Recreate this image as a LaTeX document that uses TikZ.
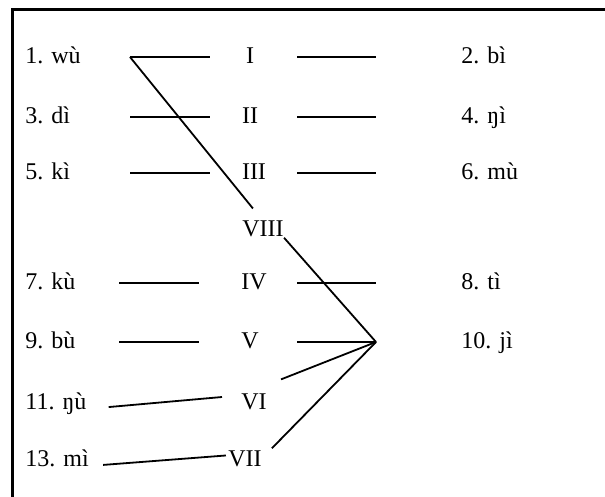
\documentclass[tikz,border=0pt]{standalone}
\usepackage{fontspec}
\setmainfont{Liberation Serif}
\begin{document}
\begin{tikzpicture}[x=0.5pt, y=-0.5pt, font=\fontsize{12}{14}\selectfont,
  word/.style={anchor=base west, inner sep=0pt},
  roman/.style={anchor=base, inner sep=0pt},
  link/.style={line width=0.9pt}]

\useasboundingbox (0,0) rectangle (605,497);

% Frame (only top and left edges show)
\draw[line width=1.5pt] (12,497) -- (12,10) -- (605,10);

% Left words
\foreach \n/\y/\t in {1/64/1. wù, 3/124/3. dì, 5/180/5. kì, 7/290/7. kù,
                      9/349/9. bù, 11/409/11. ŋù, 13/466/13. mì}
  \node[word] (w\n) at (25,\y) {\t};

% Right words
\foreach \n/\y/\t in {2/64/2. bì, 4/124/4. ŋì, 6/180/6. mù, 8/290/8. tì, 10/349/10. jì}
  \node[word] (w\n) at (461,\y) {\t};

% Roman numerals
\node[roman] (rI)    at (250,64)  {I};
\node[roman] (rII)   at (250,124) {II};
\node[roman] (rIII)  at (254,180) {III};
\node[roman] (rVIII) at (263,237) {VIII};
\node[roman] (rIV)   at (254,290) {IV};
\node[roman] (rV)    at (250,349) {V};
\node[roman] (rVI)   at (254,409) {VI};
\node[roman] (rVII)  at (245,466) {VII};

% Short dashes
\foreach \y [count=\i] in {57,117,173} {
  \coordinate (la\i) at (130,\y);
  \coordinate (lb\i) at (210,\y);
}
\foreach \y [count=\i from 4] in {283,342} {
  \coordinate (la\i) at (119,\y);
  \coordinate (lb\i) at (199,\y);
}
\foreach \y [count=\i] in {57,117,173,283} {
  \coordinate (ra\i) at (297,\y);
  \coordinate (rb\i) at (376,\y);
}
\coordinate (ra5) at (297,342);
\coordinate (hub) at (376,342);

\foreach \i in {1,...,5}
  \draw[link] (la\i) -- (lb\i);
\foreach \i in {1,...,4}
  \draw[link] (ra\i) -- (rb\i);
\draw[link] (ra5) -- (hub);

% Crossing links
\draw[link, shorten >=8pt] (la1) -- (rVIII.north);
\draw[link] (rVIII.south east) -- (hub);
\draw[link, shorten <=7.5pt] ([yshift=4pt]rVI.north east) -- (hub);
\draw[link, shorten <=7pt] (rVII.east) -- (hub);
\draw[link, shorten <=11pt, shorten >=9.5pt] (w11.base east) -- ([yshift=3pt]rVI.west);
\draw[link, shorten <=7pt, shorten >=1pt] (w13.base east) -- ([yshift=1.5pt]rVII.west);

\end{tikzpicture}
\end{document}
